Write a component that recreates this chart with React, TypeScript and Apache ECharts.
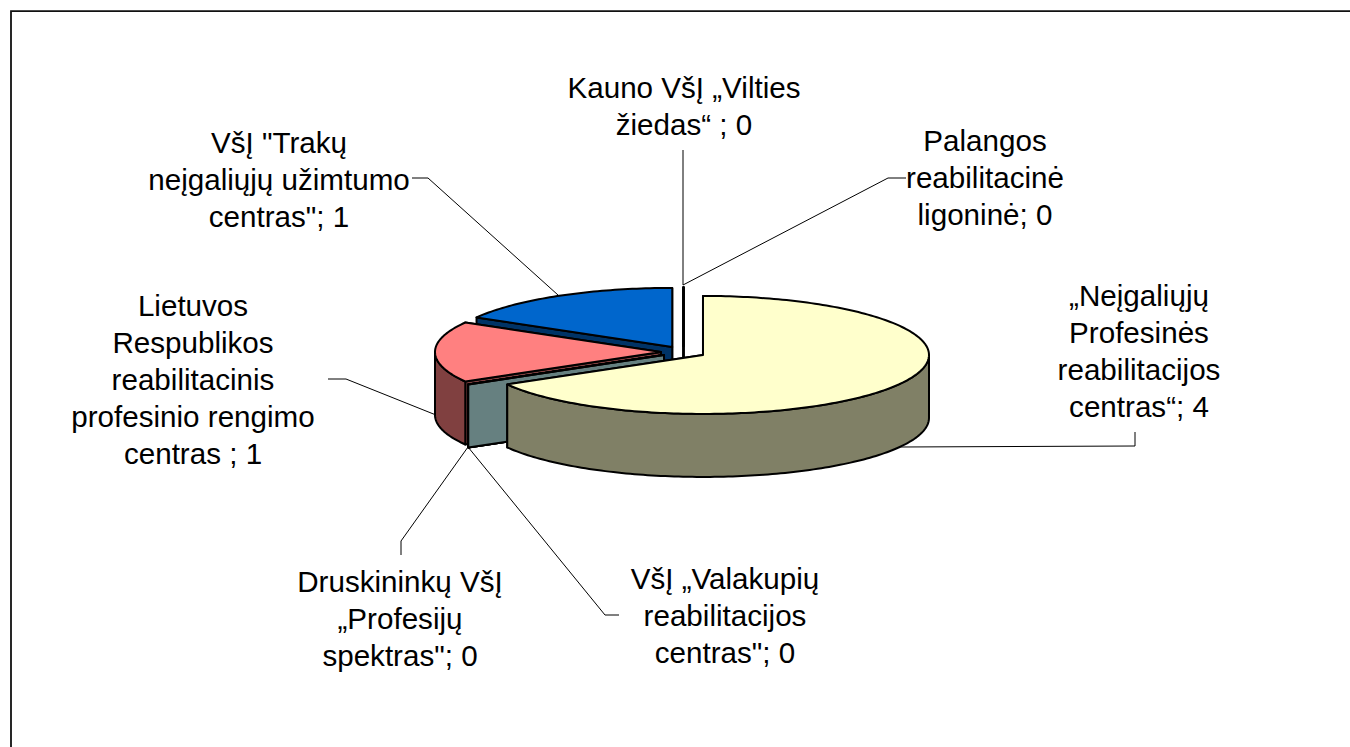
import React, { useEffect, useRef } from "react";
import * as echarts from "echarts";

const categories = [
  "Kauno VšĮ „Vilties\nžiedas“ ; 0",
  "Palangos\nreabilitacinė\nligoninė; 0",
  "„Neįgaliųjų\nProfesinės\nreabilitacijos\ncentras“; 4",
  "VšĮ „Valakupių\nreabilitacijos\ncentras\"; 0",
  "Druskininkų VšĮ\n„Profesijų\nspektras\"; 0",
  "Lietuvos\nRespublikos\nreabilitacinis\nprofesinio rengimo\ncentras ; 1",
  "VšĮ \"Trakų\nneįgaliųjų užimtumo\ncentras\"; 1",
];
const values = [0, 0, 4, 0, 0, 1, 1];
const topColors = ["#9999FF", "#993366", "#FFFFCC", "#CCFFFF", "#660066", "#FF8080", "#0066CC"];
const sideColors = ["#4D4D80", "#4D1A33", "#808066", "#668080", "#330033", "#804040", "#003366"];
const drawOrder = [0, 1, 6, 5, 4, 3, 2];
const labelCentres = [
  [684, 105.5], [985, 177.5], [1139, 351], [725, 615], [400, 618], [193, 379.5], [279, 179],
];
const leaderLines = [
  [[683, 150], [683, 285]],
  [[906, 178], [888, 178], [683, 285]],
  [[1135, 432], [1135, 446], [900, 447]],
  [[412, 178], [428, 178], [558, 295]],
  [[328, 379], [346, 379], [436, 415]],
  [[401, 555], [401, 541], [468, 447]],
  [[468, 447], [605, 615], [619, 615]],
];

const CX = 683.5, CY = 352, RX = 226, RY = 59, DEPTH = 63, EXPLODE = 22.5;
const total = values.reduce((a, b) => a + b, 0);

function pathFor(start: number, end: number) {
  const mid = (start + end) / 2;
  const cx = CX + EXPLODE * Math.sin(mid);
  const cy = CY - (EXPLODE * RY / RX) * Math.cos(mid);
  const pt = (a: number, dy = 0) => [cx + RX * Math.sin(a), cy - RY * Math.cos(a) + dy];
  const arc = (a0: number, a1: number, dy = 0) => {
    const out: number[][] = [];
    const n = Math.max(1, Math.ceil(Math.abs(a1 - a0) / 0.02));
    for (let i = 0; i <= n; i++) out.push(pt(a0 + ((a1 - a0) * i) / n, dy));
    return out;
  };
  const d = (pts: number[][]) =>
    "M" + pts.map((p) => p[0].toFixed(2) + " " + p[1].toFixed(2)).join("L") + "Z";
  const face = (a: number) => d([[cx, cy], pt(a), pt(a, DEPTH), [cx, cy + DEPTH]]);
  const h0 = Math.max(start, Math.PI / 2);
  const h1 = Math.min(end, (3 * Math.PI) / 2);
  const wall = h1 > h0 ? d([...arc(h0, h1), ...arc(h1, h0, DEPTH)]) : null;
  const top = d([[cx, cy], ...arc(start, end)]);
  return { faces: [face(end), face(start)], wall, top };
}

function App() {
  const ref = useRef<HTMLDivElement | null>(null);
  useEffect(() => {
    const chart = echarts.init(ref.current!, undefined, { renderer: "svg" });
    const starts: number[] = [];
    let acc = 0;
    values.forEach((v) => {
      starts.push(acc);
      acc += v;
    });
    const seriesData = drawOrder.map((i) => [starts[i], values[i], i]);
    chart.setOption({
      animation: false,
      backgroundColor: "#ffffff",
      graphic: [
        {
          type: "polyline",
          silent: true,
          z: 1,
          shape: { points: [[11, 760], [11, 11.2], [1360, 11.2]] },
          style: { fill: "none", stroke: "#111", lineWidth: 1.8 },
        },
        ...leaderLines.map((points) => ({
          type: "polyline",
          silent: true,
          z: 1,
          shape: { points },
          style: { fill: "none", stroke: "#000", lineWidth: 1 },
        })),
        ...categories.map((text, i) => ({
          type: "text",
          silent: true,
          z: 5,
          x: labelCentres[i][0],
          y: labelCentres[i][1],
          style: {
            text,
            fill: "#000",
            font: '29.6px "Liberation Sans", Arial, sans-serif',
            lineHeight: 37,
            align: "center",
            verticalAlign: "middle",
          },
        })),
      ],
      series: [
        {
          type: "custom",
          coordinateSystem: "none",
          silent: true,
          z: 3,
          data: seriesData,
          renderItem: (_p: any, api: any) => {
            const start = ((api.value(0) as number) / total) * Math.PI * 2;
            const end = start + ((api.value(1) as number) / total) * Math.PI * 2;
            const idx = api.value(2) as number;
            const { faces, wall, top } = pathFor(start, end);
            const stroke = { stroke: "#000", lineWidth: 2, lineJoin: "round" };
            const node = (pathData: string, fill: string) => ({
              type: "path",
              shape: { pathData },
              style: { fill, ...stroke },
            });
            const children = faces.map((f) => node(f, sideColors[idx]));
            if (wall) children.push(node(wall, sideColors[idx]));
            children.push(node(top, topColors[idx]));
            return { type: "group", children };
          },
        },
      ],
    });
    return () => chart.dispose();
  }, []);
  return (
    <div
      ref={ref}
      style={{ position: "fixed", left: 0, top: 0, width: 1350, height: 747, background: "#fff" }}
    />
  );
}

export default App;
